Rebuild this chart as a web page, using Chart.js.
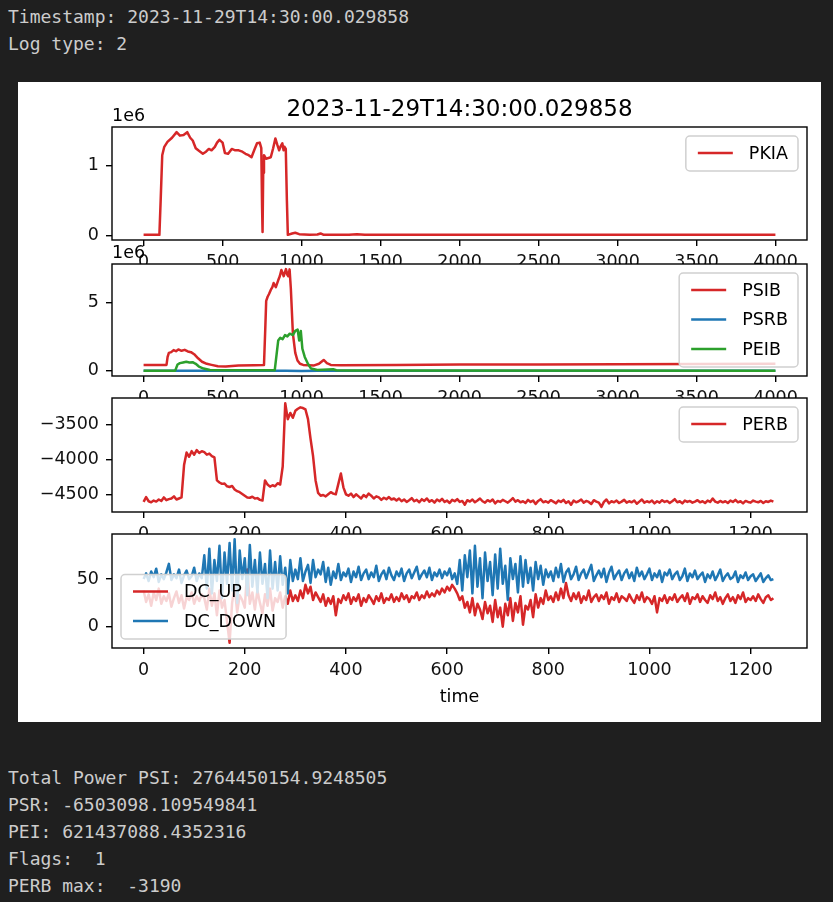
<!DOCTYPE html>
<html>
<head>
<meta charset="utf-8">
<script src="https://cdn.jsdelivr.net/npm/chart.js@4.4.0/dist/chart.umd.min.js"></script>
<style>
  html, body { margin: 0; padding: 0; background: #1f1f1f; }
  body { width: 833px; height: 902px; position: relative; overflow: hidden; }
  .out { position: absolute; left: 8px; margin: 0; font: 18px/27px "DejaVu Sans Mono", monospace; color: #cccccc; white-space: pre; }
  #fig { position: absolute; left: 18px; top: 82px; width: 803px; height: 640px; background: #fff; }
  #fig canvas { position: absolute; left: 0; top: 0; }
</style>
</head>
<body>
<div class="out" style="top:3px">Timestamp: 2023-11-29T14:30:00.029858
Log type: 2</div>
<div id="fig">
  <canvas id="c1" width="803" height="640"></canvas>
  <canvas id="c2" width="803" height="640"></canvas>
  <canvas id="c3" width="803" height="640"></canvas>
  <canvas id="c4" width="803" height="640"></canvas>
</div>
<div class="out" style="top:764px">Total Power PSI: 2764450154.9248505
PSR: -6503098.109549841
PEI: 621437088.4352316
Flags:  1
PERB max:  -3190</div>
<script>
// ---- data ----
const title = '2023-11-29T14:30:00.029858';
const longLen = 4000;      // samples in the PKIA / PS* logs
const shortLen = 1250;     // samples in the PERB / DC logs
const shortStep = 5;       // spacing of the values typed below

const longTicks = [0, 500, 1000, 1500, 2000, 2500, 3000, 3500, 4000];
const shortTicks = [0, 200, 400, 600, 800, 1000, 1200];
const pkiaTicks = [0, 1e6];
const psTicks = [0, 5e6];
const perbTicks = [-4500, -4000, -3500];
const dcTicks = [0, 50];

const pkiaT = [0, 100, 108, 118, 131, 151, 180, 209, 230, 253, 276, 295, 311, 330, 346, 375, 395, 413, 430, 451,
  465, 480, 500, 515, 535, 558, 580, 602, 625, 645, 665, 683, 700, 718, 735, 745, 750, 753, 757, 762,
  775, 805, 820, 834, 846, 858, 868, 878, 886, 892, 900, 907, 913, 940, 960, 985, 1050, 1100, 1120, 1140,
  1300, 1350, 1400, 3999];
const pkiaV = [0.01e6, 0.01e6, 0.5e6, 1.15e6, 1.27e6, 1.34e6, 1.40e6, 1.48e6, 1.43e6, 1.44e6, 1.48e6, 1.40e6, 1.36e6, 1.25e6, 1.22e6, 1.17e6, 1.20e6, 1.24e6, 1.22e6, 1.27e6,
  1.33e6, 1.37e6, 1.33e6, 1.18e6, 1.17e6, 1.24e6, 1.22e6, 1.22e6, 1.20e6, 1.17e6, 1.15e6, 1.12e6, 1.22e6, 1.32e6, 1.33e6, 1.25e6, 0.4e6, 0.05e6, 0.9e6, 1.15e6,
  1.10e6, 1.12e6, 1.25e6, 1.39e6, 1.30e6, 1.22e6, 1.28e6, 1.32e6, 1.22e6, 1.27e6, 1.24e6, 0.5e6, 0.01e6, 0.03e6, 0.04e6, 0.02e6, 0.01e6, 0.015e6, 0.03e6, 0.01e6,
  0.01e6, 0.02e6, 0.01e6, 0.01e6];

const psibT = [0, 145, 152, 160, 175, 190, 205, 220, 240, 260, 280, 300, 320, 345, 370, 400, 430, 470, 520, 600,
  700, 762, 770, 776, 785, 794, 805, 815, 823, 837, 852, 862, 872, 887, 901, 910, 916, 924, 932, 945,
  960, 974, 990, 1010, 1080, 1110, 1140, 1160, 1185, 1250, 1600, 2000, 2500, 3000, 3999];
const psibV = [0.42e6, 0.42e6, 1.0e6, 1.3e6, 1.35e6, 1.5e6, 1.42e6, 1.55e6, 1.45e6, 1.52e6, 1.4e6, 1.35e6, 1.2e6, 0.9e6, 0.65e6, 0.5e6, 0.42e6, 0.32e6, 0.3e6, 0.38e6,
  0.4e6, 0.42e6, 3.0e6, 5.1e6, 5.4e6, 5.6e6, 5.9e6, 6.1e6, 6.4e6, 6.1e6, 6.6e6, 6.9e6, 7.35e6, 6.9e6, 7.42e6, 7.0e6, 6.9e6, 7.4e6, 6.0e6, 2.7e6,
  1.3e6, 0.74e6, 0.5e6, 0.42e6, 0.38e6, 0.5e6, 0.78e6, 0.55e6, 0.42e6, 0.4e6, 0.42e6, 0.45e6, 0.45e6, 0.47e6, 0.5e6];

const psrbT = [0, 200, 210, 400, 900, 1000, 1100, 3999];
const psrbV = [0, 0, -0.01e6, -0.004e6, -0.002e6, -0.02e6, -0.004e6, -0.001e6];

const peibT = [0, 200, 215, 230, 250, 270, 290, 310, 330, 350, 380, 420, 500, 830, 842, 852, 865, 880, 895, 910,
  925, 945, 960, 975, 985, 995, 1005, 1020, 1040, 1060, 1100, 1200, 1220, 1300, 3999];
const peibV = [0, 0, 0.45e6, 0.55e6, 0.6e6, 0.65e6, 0.6e6, 0.62e6, 0.5e6, 0.3e6, 0.15e6, 0.05e6, 0.02e6, 0.02e6, 1.2e6, 2.2e6, 2.4e6, 2.3e6, 2.6e6, 2.5e6,
  2.7e6, 2.6e6, 2.9e6, 3.0e6, 2.2e6, 2.9e6, 1.6e6, 1.0e6, 0.5e6, 0.15e6, 0.05e6, 0.1e6, 0.03e6, 0.01e6, 0];

// one value every shortStep samples
const perb = [
  -4610, -4540, -4600, -4615, -4590, -4605, -4575, -4595, -4545, -4585, -4570, -4560, -4530, -4575, -4560, -4545,
  -4080, -3900, -3960, -3880, -3930, -3865, -3905, -3880, -3895, -3930, -3915, -3950, -3970,
  -4300, -4330, -4350, -4345, -4385, -4395, -4380, -4430, -4455, -4470, -4495, -4520, -4545, -4550, -4535, -4560, -4555, -4580, -4590,
  -4300, -4360, -4390, -4370, -4385, -4340, -4360, -4100,
  -3190, -3420, -3330, -3400, -3300, -3270, -3250, -3260, -3280, -3420, -3700, -3950,
  -4300, -4480, -4520, -4510, -4530, -4500, -4470, -4490, -4500, -4350, -4200, -4400, -4500, -4520, -4490, -4540,
  -4500, -4530, -4560, -4510, -4540, -4490, -4520, -4560, -4530, -4545, -4580, -4550, -4570, -4540, -4575, -4560,
  -4590, -4560, -4600, -4575, -4610, -4585, -4555, -4600, -4580, -4615,
  -4570, -4595, -4560, -4605, -4585, -4620, -4575, -4600, -4565, -4610,
  -4590, -4625, -4580, -4600, -4570, -4610, -4595, -4650, -4585, -4605,
  -4575, -4615, -4590, -4560, -4600, -4620, -4585, -4605, -4575, -4630,
  -4595, -4610, -4580, -4600, -4620, -4590, -4555, -4605, -4585, -4615,
  -4600, -4625, -4580, -4610, -4590, -4640, -4595, -4570, -4615, -4600,
  -4620, -4585, -4605, -4630, -4590, -4610, -4580, -4625, -4600, -4650,
  -4590, -4615, -4600, -4575, -4620, -4595, -4610, -4640, -4585, -4605,
  -4620, -4680, -4610, -4575, -4630, -4600, -4615, -4590, -4625, -4605,
  -4580, -4620, -4600, -4615, -4590, -4635, -4605, -4575, -4620, -4600,
  -4615, -4590, -4630, -4600, -4620, -4585, -4610, -4595, -4625, -4600,
  -4570, -4615, -4600, -4630, -4590, -4610, -4595, -4620, -4605, -4585,
  -4615, -4600, -4625, -4590, -4610, -4560, -4605, -4620, -4595, -4615,
  -4600, -4625, -4590, -4610, -4580, -4615, -4600, -4630, -4595, -4610,
  -4620, -4590, -4605, -4615, -4595, -4625, -4600, -4610, -4590, -4605
];

const dcUp = [
  38, 26, 34, 22, 36, 28, 40, 24, 32, 27,
  35, 21, 30, 37, 25, 33, 19, 31, 28, 36,
  24, 32, 27, 34,
  30, 18, 40, 22, 35, 12, 38, 20, 28, 5,
  -17, 25, 42, 15, 33, 28, 20, 60, 24, 36,
  18, 38, 25, 14, 34, 22, 40, 17, 30, 26,
  36, 20, 32, 24, 38, 27,
  33, 27, 38, 30, 44, 35, 42, 28, 36, 31,
  26, 34, 22, 30, 24, 32, 12, 29, 25, 33,
  28, 35, 24, 31, 27, 34, 22, 30, 26, 33,
  29, 24, 32, 27, 35, 25, 30, 28, 34, 26,
  31, 27, 35, 29, 33, 26, 32, 30, 36, 28,
  33, 30, 37, 31, 35, 32, 38, 34, 40, 36, 42, 38, 44, 40,
  35, 28, 32, 20, 26, 15, 30, 12, 24, 18,
  8, 26, 14, 22, 5, 28, 10, 20, 0, 24,
  12, 30, 6, 25, 15, 32, 2, 22, 18, 28,
  10, 34, 20, 30, 24, 38, 28,
  32, 26, 36, 28, 40, 30, 46, 33, 27, 35,
  29, 36, 25, 32, 28, 38, 26, 31, 34, 27,
  33, 29, 36, 24, 31, 28, 35, 26, 32, 30,
  27, 34, 29, 25, 33, 28, 36, 26, 31, 29,
  24, 32, 15, 30, 27, 33, 25, 31, 28, 34,
  26, 30, 33, 27, 35, 24, 31, 29, 34, 26,
  32, 28, 25, 33, 29, 36, 27, 31, 24, 30,
  34, 27, 31, 25, 33, 29, 36, 26, 30, 28,
  32, 27, 34, 29, 25, 31, 33, 28, 30
];

const dcDown = [
  50, 56, 48, 58, 52, 61, 47, 55, 50, 57,
  66, 49, 55, 51, 60, 46, 54, 59, 50, 53,
  62, 48, 56, 51,
  75, 40, 82, 35, 70, 48, 85, 30, 78, 45,
  88, 38, 92, 25, 80, 50, 72, 33, 86, 42,
  70, 36, 78, 45, 66, 30, 80, 40, 68, 38,
  74, 44, 62, 35, 70, 48,
  60, 50, 72, 48, 58, 65, 46, 70, 52, 60,
  55, 68, 47, 62, 44, 58, 51, 66, 49, 57,
  53, 61, 47, 58, 52, 63, 49, 56, 60, 50,
  57, 52, 64, 48, 55, 59, 50, 62, 54, 49,
  58, 53, 61, 48, 56, 60, 51, 57, 63, 50,
  55, 59, 52, 62, 49, 57, 53, 60, 51, 58, 54, 61, 50, 56,
  45, 70, 38, 75, 52, 80, 35, 85, 42, 72,
  30, 78, 48, 68, 33, 76, 40, 82, 45, 64,
  28, 72, 50, 66, 36, 74, 42, 70, 46, 62,
  38, 68, 50, 64, 44, 60, 52,
  58, 48, 62, 52, 66, 47, 57, 61, 50, 55,
  63, 49, 56, 60, 51, 58, 65, 48, 54, 59,
  52, 61, 47, 57, 63, 50, 55, 59, 49, 56,
  60, 51, 57, 48, 62, 53, 58, 50, 55, 61,
  49, 56, 52, 59, 47, 57, 54, 60, 50, 55,
  58, 49, 53, 61, 48, 56, 52, 59, 50, 54,
  57, 47, 55, 51, 58, 49, 54, 60, 48, 53,
  56, 50, 52, 58, 47, 54, 51, 57, 49, 53,
  55, 48, 52, 56, 47, 51, 54, 49, 50
];

// ---- drawing ----
const FONT = '"DejaVu Sans", sans-serif';
const RED = '#d62728', BLUE = '#1f77b4', GREEN = '#2ca02c';
Chart.defaults.font.family = FONT;

function pairs(xs, ys) { return xs.map((x, i) => ({ x: x, y: ys[i] })); }
function stepped(ys) { return ys.map((y, i) => ({ x: i * shortStep, y: y })); }
function padded(lo, hi) { const m = (hi - lo) * 0.05; return [lo - m, hi + m]; }
function millions(v) { return String(Math.round(v / 1e6)); }
function minus(v) { return v < 0 ? '\u2212' + Math.abs(v) : String(v); }

function drawLegend(ctx, a, items, where) {
  ctx.font = '17.5px ' + FONT;
  const tw = Math.max.apply(null, items.map(it => ctx.measureText(it.label).width));
  const w = 63 + tw + 10, h = 35 + 29.5 * (items.length - 1);
  const x = where === 'lower left' ? a.left + 9 : a.right - 9 - w;
  const y = where === 'lower left' ? a.bottom - 9 - h : a.top + 9;
  const r = 4;
  ctx.beginPath();
  ctx.moveTo(x + r, y);
  ctx.arcTo(x + w, y, x + w, y + h, r);
  ctx.arcTo(x + w, y + h, x, y + h, r);
  ctx.arcTo(x, y + h, x, y, r);
  ctx.arcTo(x, y, x + w, y, r);
  ctx.closePath();
  ctx.fillStyle = 'rgba(255,255,255,0.8)';
  ctx.fill();
  ctx.strokeStyle = '#d0d0d0';
  ctx.lineWidth = 1.5;
  ctx.stroke();
  items.forEach((it, i) => {
    const cy = y + 17 + i * 29.5;
    ctx.beginPath();
    ctx.moveTo(x + 12, cy);
    ctx.lineTo(x + 47, cy);
    ctx.strokeStyle = it.color;
    ctx.lineWidth = 2.5;
    ctx.stroke();
    ctx.fillStyle = '#000';
    ctx.textAlign = 'left';
    ctx.textBaseline = 'middle';
    ctx.fillText(it.label, x + 63, cy + 1);
  });
}

function panelPlugin(o) {
  return {
    id: 'panel',
    beforeDraw(chart) {
      const ctx = chart.ctx, a = chart.chartArea;
      ctx.save();
      ctx.fillStyle = '#fff';
      ctx.fillRect(a.left, a.top, a.right - a.left, a.bottom - a.top);
      ctx.restore();
    },
    afterDatasetsDraw(chart) {
      const ctx = chart.ctx, a = chart.chartArea;
      ctx.save();
      ctx.strokeStyle = '#000';
      ctx.lineWidth = 1.4;
      ctx.strokeRect(a.left, a.top, a.right - a.left, a.bottom - a.top);
      drawLegend(ctx, a, o.series, o.legendAt);
      ctx.restore();
    },
    afterDraw(chart) {
      const ctx = chart.ctx, a = chart.chartArea;
      ctx.save();
      ctx.fillStyle = '#000';
      ctx.textBaseline = 'alphabetic';
      if (o.title) {
        ctx.font = '23px ' + FONT;
        ctx.textAlign = 'center';
        ctx.fillText(o.title, (a.left + a.right) / 2, a.top - 11);
      }
      if (o.offset) {
        ctx.font = '17.5px ' + FONT;
        ctx.textAlign = 'left';
        ctx.fillText(o.offset, a.left, a.top - 6);
      }
      if (o.xLabel) {
        ctx.font = '17.5px ' + FONT;
        ctx.textAlign = 'center';
        ctx.fillText(o.xLabel, (a.left + a.right) / 2, 620);
      }
      ctx.restore();
    }
  };
}

function axis(tickValues, fmt, fit, pad) {
  return {
    type: 'linear',
    bounds: 'data',
    afterBuildTicks: s => { s.ticks = tickValues.map(v => ({ value: v })); },
    afterFit: fit,
    border: { display: false },
    grid: { drawOnChartArea: false, drawTicks: true, tickLength: 6, color: '#000', lineWidth: 1.4 },
    ticks: { autoSkip: false, maxRotation: 0, padding: pad, color: '#111', font: { size: 17.5, family: FONT }, callback: fmt }
  };
}

function panel(id, o) {
  const ys = [].concat.apply([], o.series.map(s => s.data.map(p => p.y)));
  const yr = padded(Math.min.apply(null, ys), Math.max.apply(null, ys));
  const xr = padded(0, o.len - 1);
  const x = axis(o.xTicks, v => String(v), s => { s.height = o.xh; }, 6);
  x.min = xr[0]; x.max = xr[1];
  const y = axis(o.yTicks, o.yFmt, s => { s.width = 94; }, 7);
  y.min = yr[0]; y.max = yr[1];
  return new Chart(document.getElementById(id), {
    type: 'line',
    data: {
      datasets: o.series.map(s => ({
        label: s.label, data: s.data, order: s.order,
        borderColor: s.color, borderWidth: 2.5, pointRadius: 0,
        fill: false, tension: 0, borderJoinStyle: 'round'
      }))
    },
    options: {
      responsive: false,
      animation: false,
      events: [],
      devicePixelRatio: 1,
      layout: { padding: { left: 0, right: 14, top: o.top, bottom: 640 - o.bottom - o.xh } },
      plugins: { legend: { display: false }, tooltip: { enabled: false } },
      scales: { x: x, y: y }
    },
    plugins: [panelPlugin(o)]
  });
}

panel('c1', {
  top: 45, bottom: 158, xh: 40, len: longLen, xTicks: longTicks, yTicks: pkiaTicks, yFmt: millions,
  title: title, offset: '1e6', legendAt: 'upper right',
  series: [{ label: 'PKIA', color: RED, order: 1, data: pairs(pkiaT, pkiaV) }]
});

panel('c2', {
  top: 182, bottom: 294, xh: 40, len: longLen, xTicks: longTicks, yTicks: psTicks, yFmt: millions,
  offset: '1e6', legendAt: 'upper right',
  series: [
    { label: 'PSIB', color: RED, order: 3, data: pairs(psibT, psibV) },
    { label: 'PSRB', color: BLUE, order: 2, data: pairs(psrbT, psrbV) },
    { label: 'PEIB', color: GREEN, order: 1, data: pairs(peibT, peibV) }
  ]
});

panel('c3', {
  top: 316, bottom: 430, xh: 40, len: shortLen, xTicks: shortTicks, yTicks: perbTicks, yFmt: minus,
  legendAt: 'upper right',
  series: [{ label: 'PERB', color: RED, order: 1, data: stepped(perb) }]
});

panel('c4', {
  top: 452, bottom: 566, xh: 74, len: shortLen, xTicks: shortTicks, yTicks: dcTicks, yFmt: minus,
  xLabel: 'time', legendAt: 'lower left',
  series: [
    { label: 'DC_UP', color: RED, order: 2, data: stepped(dcUp) },
    { label: 'DC_DOWN', color: BLUE, order: 1, data: stepped(dcDown) }
  ]
});
</script>
</body>
</html>
